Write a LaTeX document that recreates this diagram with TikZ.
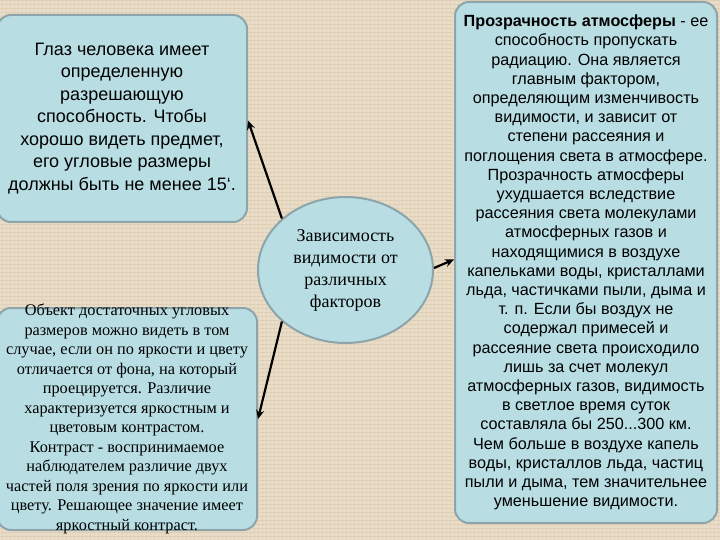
\documentclass[tikz,border=0pt]{standalone}
\usepackage{fontspec}
\setmainfont{Liberation Serif}
\newfontfamily\arialf{Liberation Sans}
\usetikzlibrary{shapes.geometric,arrows.meta}
\definecolor{bgbeige}{RGB}{234,221,200}
\definecolor{bgdark}{RGB}{205,186,156}
\definecolor{boxfill}{RGB}{184,222,228}
\definecolor{boxline}{RGB}{140,164,170}
\tikzset{
  panel/.style={draw=boxline, line width=2pt, fill=boxfill, rounded corners=14pt, inner sep=2pt},
  conn/.style={line width=2.2pt, -{Stealth[length=9pt,width=8pt]}}
}
\begin{document}
\begin{tikzpicture}[x=1pt,y=-1pt]
\useasboundingbox (0,0) rectangle (720,540);
\fill[bgbeige] (0,0) rectangle (720,540);
\foreach \k in {0,4,...,540} {\draw[bgdark, opacity=0.35, line width=0.8pt] (0,\k) -- (720,\k);}
\foreach \k in {2,6,...,720} {\draw[bgdark, opacity=0.2, line width=0.8pt] (\k,0) -- (\k,540);}

\node[panel, minimum width=250pt, minimum height=207pt, align=center,
      font=\arialf\fontsize{18}{22.5}\selectfont] (b1) at (122,118.5)
  {Глаз человека имеет\\определенную\\разрешающую\\способность. Чтобы\\хорошо видеть предмет,\\его угловые размеры\\должны быть не менее 15‘.};

\node[panel, minimum width=260pt, minimum height=222pt, inner ysep=-6pt, align=center,
      font=\fontsize{16.3}{19.5}\selectfont] (b2) at (127,419)
  {Объект достаточных угловых\\размеров можно видеть в том\\случае, если он по яркости и цвету\\отличается от фона, на который\\проецируется. Различие\\характеризуется яркостным и\\цветовым контрастом.\\Контраст - воспринимаемое\\наблюдателем различие двух\\частей поля зрения по яркости или\\цвету. Решающее значение имеет\\яркостный контраст.};

\node[ellipse, draw=boxline, line width=2pt, fill=boxfill, minimum width=175pt, minimum height=146pt,
      inner sep=0pt, align=center, font=\fontsize{18}{22}\selectfont] (e) at (345.5,270)
  {Зависимость\\видимости от\\различных\\факторов};

\node[panel, minimum width=262pt, minimum height=521pt, align=center,
      font=\arialf\fontsize{16.2}{19.2}\selectfont] (r) at (586,262.5)
  {\textbf{Прозрачность атмосферы} - ее\\способность пропускать\\радиацию. Она является\\главным фактором,\\определяющим изменчивость\\видимости, и зависит от\\степени рассеяния и\\поглощения света в атмосфере.\\Прозрачность атмосферы\\ухудшается вследствие\\рассеяния света молекулами\\атмосферных газов и\\находящимися в воздухе\\капельками воды, кристаллами\\льда, частичками пыли, дыма и\\т. п. Если бы воздух не\\содержал примесей и\\рассеяние света происходило\\лишь за счет молекул\\атмосферных газов, видимость\\в светлое время суток\\составляла бы 250...300 км.\\Чем больше в воздухе капель\\воды, кристаллов льда, частиц\\пыли и дыма, тем значительнее\\уменьшение видимости.};

\draw[conn] (e.141.7) -- ([yshift=-2pt]b1.east);
\draw[conn] (e.219) -- (b2.east);
\draw[conn] ([yshift=2pt]e.east) -- ([yshift=3pt]r.west);
\end{tikzpicture}
\end{document}
